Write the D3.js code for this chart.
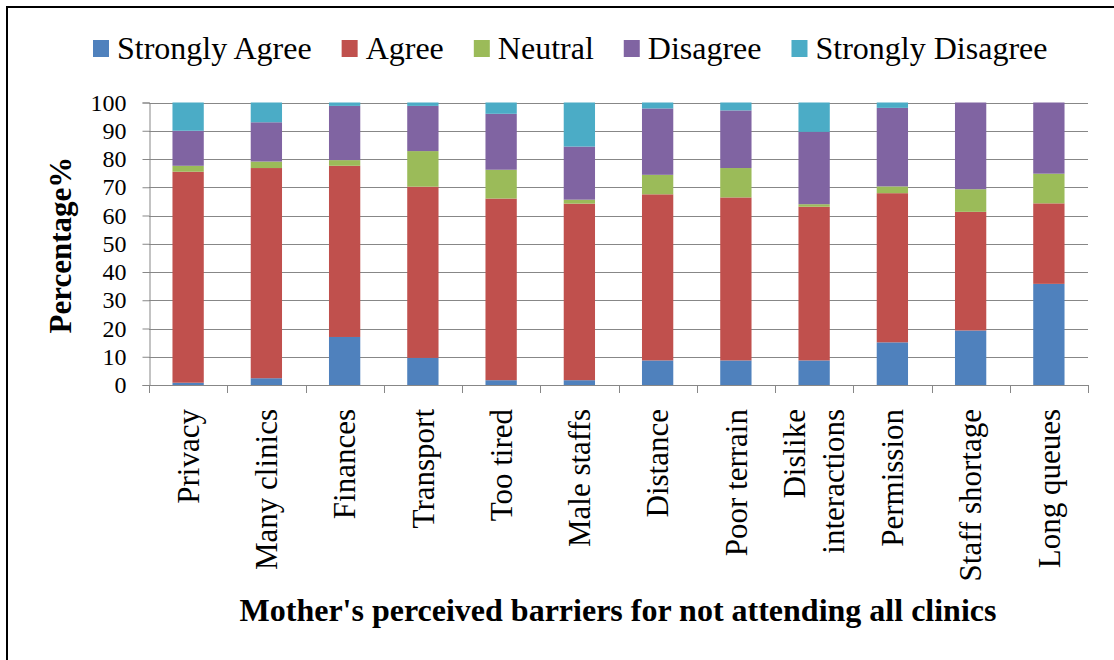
<!DOCTYPE html>
<html>
<head>
<meta charset="utf-8">
<script src="https://cdn.jsdelivr.net/npm/d3@7"></script>
<style>
  html, body { margin: 0; padding: 0; background: #fff; }
  svg { display: block; font-family: "Liberation Serif", "Times New Roman", serif; }
</style>
</head>
<body>
<svg id="chart" width="1114" height="660"></svg>
<script>
const categories = ["Privacy", "Many clinics", "Finances", "Transport", "Too tired", "Male staffs",
  "Distance", "Poor terrain", "Dislike interactions", "Permission", "Staff shortage", "Long queues"];
const seriesNames = ["Strongly Agree", "Agree", "Neutral", "Disagree", "Strongly Disagree"];
const stronglyAgree    = [0.8, 2.4, 17.0, 9.6, 1.7, 1.7, 8.7, 8.7, 8.7, 15.1, 19.3, 35.8];
const agree            = [74.7, 74.4, 60.6, 60.6, 64.3, 62.5, 58.8, 57.7, 54.4, 52.8, 42.0, 28.5];
const neutral          = [2.1, 2.3, 2.0, 12.6, 10.2, 1.4, 6.9, 10.4, 0.9, 2.4, 8.0, 10.5];
const disagree         = [12.4, 13.9, 19.2, 16.0, 19.8, 18.8, 23.5, 20.4, 25.6, 27.8, 30.7, 25.2];
const stronglyDisagree = [10.0, 7.0, 1.2, 1.2, 4.0, 15.6, 2.1, 2.8, 10.4, 1.9, 0.0, 0.0];
const yTicks = [0, 10, 20, 30, 40, 50, 60, 70, 80, 90, 100];
const yTitle = "Percentage%";
const xTitle = "Mother's perceived barriers for not attending all clinics";
const colors = ["#4F81BD", "#C0504D", "#9BBB59", "#8064A2", "#4BACC6"];

const seriesValues = [stronglyAgree, agree, neutral, disagree, stronglyDisagree];
const rows = categories.map((c, i) => {
  const r = { category: c };
  seriesNames.forEach((s, k) => r[s] = seriesValues[k][i]);
  return r;
});

const svg = d3.select("#chart");
const W = 1114, H = 660;
const plot = { left: 149, right: 1088, top: 102.5, bottom: 385 };

// frame (only top and left visible)
svg.append("path")
  .attr("d", `M7,${H + 2} L7,7 L${W + 2},7`)
  .attr("fill", "none").attr("stroke", "#000").attr("stroke-width", 2);

const x = d3.scaleBand().domain(categories).range([plot.left, plot.right])
  .paddingInner(0.6).paddingOuter(0.3);
const y = d3.scaleLinear().domain([0, 100]).range([plot.bottom, plot.top]);

// gridlines
svg.append("g").selectAll("line").data(yTicks.filter(d => d > 0)).join("line")
  .attr("x1", plot.left).attr("x2", plot.right)
  .attr("y1", d => Math.round(y(d)) + 0.5).attr("y2", d => Math.round(y(d)) + 0.5)
  .attr("stroke", "#878787").attr("stroke-width", 1);

// bars
const stack = d3.stack().keys(seriesNames)(rows);
svg.append("g").selectAll("g").data(stack).join("g")
  .attr("fill", (d, i) => colors[i])
  .selectAll("rect").data(d => d).join("rect")
  .attr("x", d => x(d.data.category))
  .attr("width", x.bandwidth())
  .attr("y", d => y(d[1]))
  .attr("height", d => Math.max(0, y(d[0]) - y(d[1])));

// y axis
const yAxis = svg.append("g").attr("transform", `translate(${plot.left + 0.5},0)`)
  .call(d3.axisLeft(y).tickValues(yTicks).tickSize(7).tickPadding(16).tickFormat(d3.format("d")));
yAxis.select(".domain").attr("stroke", "#878787");
yAxis.selectAll(".tick line").attr("stroke", "#878787");
yAxis.selectAll(".tick text").attr("fill", "#000").style("font-size", "24px")
  .style("font-family", "Liberation Serif, Times New Roman, serif");

// x axis
const step = x.step();
const tickPos = d3.range(categories.length + 1).map(i => plot.left + i * step);
const xAxis = svg.append("g");
xAxis.append("line").attr("x1", plot.left).attr("x2", plot.right)
  .attr("y1", plot.bottom + 0.5).attr("y2", plot.bottom + 0.5).attr("stroke", "#878787");
xAxis.selectAll("line.t").data(tickPos).join("line").attr("class", "t")
  .attr("x1", d => Math.round(d) + 0.5).attr("x2", d => Math.round(d) + 0.5)
  .attr("y1", plot.bottom).attr("y2", plot.bottom + 8).attr("stroke", "#878787");

// x labels (rotated)
const labelLines = { "Dislike interactions": ["Dislike", "interactions"] };
categories.forEach(c => {
  const cx = x(c) + x.bandwidth() / 2;
  const lines = labelLines[c] || [c];
  const lh = 39;
  lines.forEach((ln, j) => {
    const off = (j - (lines.length - 1) / 2) * lh;
    svg.append("text")
      .attr("transform", `translate(${cx + off},409) rotate(-90)`)
      .attr("text-anchor", "end").attr("dy", "0.35em")
      .style("font-size", "31px").attr("fill", "#000")
      .text(ln);
  });
});

// y title
svg.append("text").attr("transform", "translate(60,245) rotate(-90)")
  .attr("text-anchor", "middle").attr("dy", "0.35em")
  .style("font-size", "31px").style("font-weight", "bold").text(yTitle);

// x title
svg.append("text").attr("x", 618).attr("y", 621).attr("text-anchor", "middle")
  .style("font-size", "32px").style("font-weight", "bold").text(xTitle);

// legend
const lg = svg.append("g");
let lx = 93;
seriesNames.forEach((s, i) => {
  lg.append("rect").attr("x", lx).attr("y", 40).attr("width", 16).attr("height", 17).attr("fill", colors[i]);
  const t = lg.append("text").attr("x", lx + 24).attr("y", 59).style("font-size", "32px").text(s);
  lx += 24 + t.node().getComputedTextLength() + 30;
});
</script>
</body>
</html>
